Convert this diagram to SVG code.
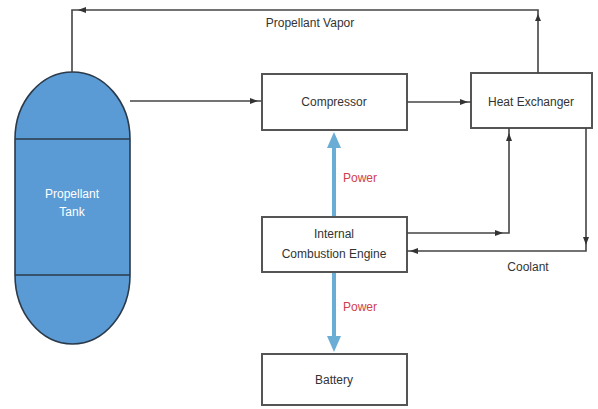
<svg xmlns="http://www.w3.org/2000/svg" width="598" height="409" viewBox="0 0 598 409">
<style>
.box{fill:#fff;stroke:#555;stroke-width:2}
.ln{fill:none;stroke:#444;stroke-width:1.6}
.pw{fill:none;stroke:#6aaed6;stroke-width:4}
.t{font-family:"Liberation Sans",Arial,sans-serif;font-size:12px;fill:#333;text-anchor:middle}
.r{font-family:"Liberation Sans",Arial,sans-serif;font-size:12px;fill:#d0404a}
.w{font-family:"Liberation Sans",Arial,sans-serif;font-size:12px;fill:#fff;text-anchor:middle}
.ah{fill:#333}
.bh{fill:#6aaed6}
</style>
<rect width="598" height="409" fill="#fff"/>
<g id="tank">
<path d="M15,139 A57.5,67 0 0 1 130,139 L130,275 A57.5,69 0 0 1 15,275 Z" fill="#5b9bd5" stroke="#2b3a4a" stroke-width="1.6"/>
<line x1="15" y1="139" x2="130" y2="139" stroke="#2b3a4a" stroke-width="1.6"/>
<line x1="15" y1="275" x2="130" y2="275" stroke="#2b3a4a" stroke-width="1.6"/>
<text class="w" x="72" y="198">Propellant</text>
<text class="w" x="72" y="216">Tank</text>
</g>
<g id="compressor">
<rect class="box" x="262" y="74" width="145" height="56"/>
<text class="t" x="334" y="106">Compressor</text>
</g>
<g id="heat-exchanger">
<rect class="box" x="471" y="73" width="121" height="55"/>
<text class="t" x="531" y="106">Heat Exchanger</text>
</g>
<g id="engine">
<rect class="box" x="262" y="217" width="145" height="55"/>
<text class="t" x="334" y="238">Internal</text>
<text class="t" x="334" y="258">Combustion Engine</text>
</g>
<g id="battery">
<rect class="box" x="262" y="354" width="145" height="51"/>
<text class="t" x="334" y="384">Battery</text>
</g>
<g id="connectors">
<path class="ln" d="M538,73 V10 H72 V72"/>
<polygon class="ah" points="78,10 86,7 86,13"/>
<polygon class="ah" points="538,14 535,21 541,21"/>
<text class="t" x="310" y="27">Propellant Vapor</text>
<path class="ln" d="M130,101 H261"/>
<polygon class="ah" points="258,101 250,98 250,104"/>
<path class="ln" d="M407,102 H471"/>
<polygon class="ah" points="468,102 460,99 460,105"/>
<path class="ln" d="M407,233 H509 V128"/>
<polygon class="ah" points="503,233 495,230 495,236"/>
<polygon class="ah" points="509,133 506,141 512,141"/>
<path class="ln" d="M586,128 V251 H407"/>
<polygon class="ah" points="586,245 583,237 589,237"/>
<polygon class="ah" points="410,251 418,248 418,254"/>
<text class="t" x="528" y="271">Coolant</text>
<line class="pw" x1="334" y1="216" x2="334" y2="146"/>
<polygon class="bh" points="334,132 327,148 341,148"/>
<line class="pw" x1="334" y1="273" x2="334" y2="338"/>
<polygon class="bh" points="334,352 327,336 341,336"/>
<text class="r" x="343" y="182">Power</text>
<text class="r" x="343" y="311">Power</text>
</g>
</svg>
